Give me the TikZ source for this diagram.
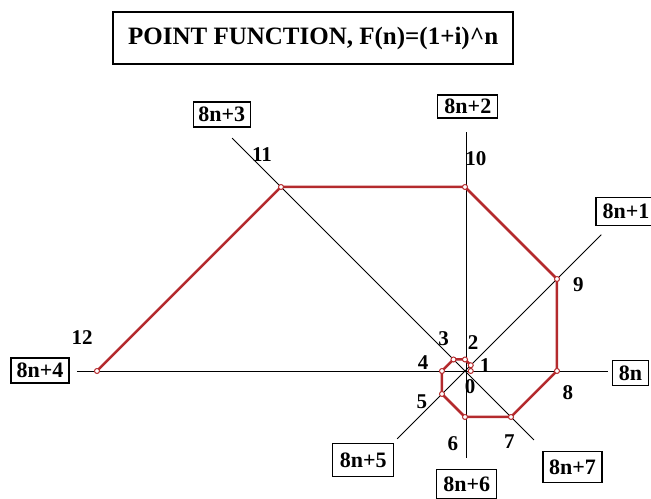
\documentclass[tikz,border=0pt]{standalone}
\usepackage{fontspec}
\setmainfont{Liberation Serif}
\definecolor{spiralred}{RGB}{180,42,45}
\tikzset{
	axis/.style={black,line width=.8pt},
	raybox/.style={draw,line width=1.2pt,inner sep=2pt,minimum width=58pt,font=\fontsize{22}{22}\selectfont\bfseries},
	idx/.style={inner sep=0pt,font=\fontsize{21}{21}\selectfont\bfseries},
	dot/.style={circle,draw=spiralred,fill=white,line width=1pt,inner sep=0pt,minimum size=5pt}
}
\begin{document}
\begin{tikzpicture}[x=5.75pt,y=5.75pt]
	\useasboundingbox(-80.87,-22.09)rectangle(32.35,64.52);
	% title
	\node[draw,line width=2.5pt,minimum width=400pt,minimum height=52pt,inner sep=0pt,
		font=\fontsize{25}{25}\selectfont\bfseries](title)at(-26.4,57.9){POINT FUNCTION, F(n)=(1+i)\textasciicircum n};
	% ray labels
	\foreach\k/\x/\y/\h/\w/\txt in {0/28.8/-.4/25/36/8n,1/28/27.8/28/60/8n+1,2/.5/46/23/60/8n+2,3/-42.3/44.6/25/57/8n+3,
		4/-73.9/.1/25/58/8n+4,5/-17.7/-15.5/33/61/8n+5,6/.3/-19.7/29/60/8n+6,7/18.7/-16.7/31/59/8n+7}
		\node[raybox,minimum height=\h pt,minimum width=\w pt](r\k)at(\x,\y){\txt};
	% free ends of the rays
	\coordinate(e0)at(24.9,0);
	\coordinate(e4)at(-67.5,0);
	\coordinate(e2)at(.2,41.6);
	\coordinate(e6)at(.2,-15.1);
	\coordinate(e1)at(23.7,23.7);
	\coordinate(e5)at(-11.8,-11.8);
	\coordinate(e3)at(-40.5,40.5);
	\coordinate(e7)at(12,-12);
	\draw[axis](e4)--(e0);
	\draw[axis](e6)--(e2);
	\draw[axis](e5)--(e1);
	\draw[axis](e3)--(e7);
	% points (1+i)^n
	\foreach\i/\x/\y in {0/1/0,1/1/1,2/0/2,3/-2/2,4/-4/0,5/-4/-4,6/0/-8,7/8/-8,8/16/0,9/16/16,10/0/32,11/-32/32,12/-64/0}
		\coordinate(p\i)at(\x,\y);
	\draw[spiralred,line width=2.5pt,line join=round](p0)--(p1)--(p2)--(p3)--(p4)--(p5)--(p6)--(p7)--(p8)--(p9)--(p10)--(p11)--(p12);
	\foreach\i in {0,...,12}
		\node[dot](d\i)at(p\i){};
	% point numbers
	\foreach\i/\x/\y in {0/.9/-2.8,1/3.5/1,2/1.4/4.9,3/-3.7/5.7,4/-7.3/1.4,5/-7.5/-5.4,6/-2.1/-12.7,
		7/7.7/-12.2,8/17.9/-3.7,9/19.7/15.1,10/1.9/37,11/-35.3/37.6,12/-66.6/5.9}
		\node[idx](n\i)at(\x,\y){\i};
\end{tikzpicture}
\end{document}
